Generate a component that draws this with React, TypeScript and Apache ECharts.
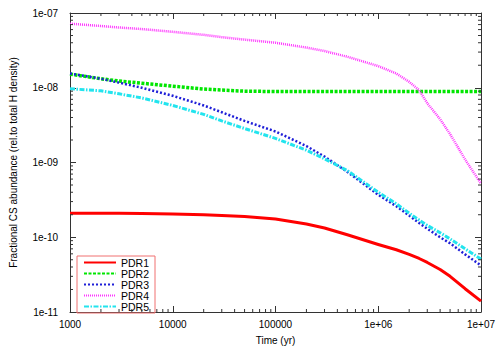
import React, { useEffect, useRef } from "react";
import * as echarts from "echarts";

const times = [1e3, 2e3, 3e3, 5e3, 1e4, 2e4, 3e4, 5e4, 1e5, 2e5, 3e5, 5e5, 1e6, 1.5e6, 2e6, 2.5e6, 3e6, 4e6, 5e6, 7e6, 1e7];
const pdr1 = [2.1e-10, 2.1e-10, 2.09e-10, 2.08e-10, 2.05e-10, 2.0e-10, 1.96e-10, 1.9e-10, 1.75e-10, 1.5e-10, 1.33e-10, 1.08e-10, 8.0e-11, 6.8e-11, 5.9e-11, 5.2e-11, 4.6e-11, 3.7e-11, 3.0e-11, 2.05e-11, 1.4e-11];
const pdr2 = [1.52e-8, 1.32e-8, 1.23e-8, 1.15e-8, 1.05e-8, 9.6e-9, 9.3e-9, 9.0e-9, 8.9e-9, 8.9e-9, 8.9e-9, 8.9e-9, 8.9e-9, 8.9e-9, 8.9e-9, 8.9e-9, 8.9e-9, 8.9e-9, 8.9e-9, 8.9e-9, 8.9e-9];
const pdr3 = [1.55e-8, 1.32e-8, 1.17e-8, 1.0e-8, 7.8e-9, 5.8e-9, 4.7e-9, 3.6e-9, 2.6e-9, 1.66e-9, 1.2e-9, 7.5e-10, 3.7e-10, 2.6e-10, 1.95e-10, 1.55e-10, 1.3e-10, 1.0e-10, 8.3e-11, 5.9e-11, 4.2e-11];
const pdr4 = [7.2e-8, 6.7e-8, 6.4e-8, 6.1e-8, 5.6e-8, 5.1e-8, 4.75e-8, 4.4e-8, 4.0e-8, 3.45e-8, 3.1e-8, 2.6e-8, 1.95e-8, 1.55e-8, 1.2e-8, 9.3e-9, 6.2e-9, 3.8e-9, 2.4e-9, 1.1e-9, 5.2e-10];
const pdr5 = [9.7e-9, 9.1e-9, 8.3e-9, 7.3e-9, 5.8e-9, 4.4e-9, 3.6e-9, 2.85e-9, 2.1e-9, 1.46e-9, 1.12e-9, 7.8e-10, 4.0e-10, 2.8e-10, 2.1e-10, 1.7e-10, 1.44e-10, 1.15e-10, 9.5e-11, 7.0e-11, 5.1e-11];

const seriesNames = ["PDR1", "PDR2", "PDR3", "PDR4", "PDR5"];
const seriesValues = [pdr1, pdr2, pdr3, pdr4, pdr5];
const xTickLabels: Record<string, string> = { "1000": "1000", "10000": "10000", "100000": "100000", "1000000": "1e+06", "10000000": "1e+07" };
const yTickLabels = ["1e-07", "1e-08", "1e-09", "1e-10", "1e-11"];
const xMinorTicks = [3, 4, 5, 6].flatMap((e) => [2, 3, 4, 5, 6, 7, 8, 9].map((m) => m * Math.pow(10, e)));
const yMinorTicks = [-11, -10, -9, -8].flatMap((e) => [2, 3, 4, 5, 6, 7, 8, 9].map((m) => m * Math.pow(10, e)));

const colors = ["#ff0000", "#00e600", "#1f1fd8", "#ff33ff", "#22e4ee"];
const widths = [3, 3.5, 2.5, 2.5, 3];
const dashes: any[] = ["solid", [3, 1.5], [2, 2], [1, 1], [5, 1.5, 1.5, 1.5]];

const FONT = "Liberation Sans, Arial, sans-serif";
const AXIS_COLOR = "#333";

function yLabel(v: number) {
  const e = Math.round(Math.log10(v));
  const s = "1e-" + String(-e).padStart(2, "0");
  return yTickLabels.includes(s) ? s : "";
}

export default function App() {
  const ref = useRef<HTMLDivElement>(null);
  useEffect(() => {
    if (!ref.current) return;
    const chart = echarts.init(ref.current, null, { renderer: "svg" });
    const axisLine = { show: true, onZero: false, lineStyle: { color: AXIS_COLOR, width: 1 } };
    const tick = { show: true, inside: true, length: 6, lineStyle: { color: AXIS_COLOR, width: 1 } };
    const tickLine = (x1: number, y1: number, x2: number, y2: number) => ({
      type: "line",
      shape: { x1, y1, x2, y2 },
      style: { stroke: AXIS_COLOR, lineWidth: 1 },
    });
    chart.setOption({
      animation: false,
      textStyle: { fontFamily: FONT },
      grid: { left: 70, right: 19, top: 13, bottom: 34 },
      legend: {
        orient: "vertical",
        left: 77,
        top: 256,
        data: seriesNames,
        itemWidth: 32,
        itemHeight: 11,
        itemGap: 0,
        padding: [1, 6, 1, 6],
        borderColor: "#f07070",
        borderWidth: 1,
        itemStyle: { opacity: 0 },
        textStyle: { fontSize: 10.5, lineHeight: 11, color: "#000", fontFamily: FONT },
      },
      xAxis: [
        {
          type: "log",
          min: 1e3,
          max: 1e7,
          logBase: 10,
          name: "Time (yr)",
          nameLocation: "middle",
          nameGap: 23,
          nameTextStyle: { fontSize: 10, color: "#000", fontFamily: FONT },
          axisLine,
          axisTick: tick,
          splitLine: { show: false },
          axisLabel: { fontSize: 10, color: "#000", margin: 7, fontFamily: FONT, formatter: (v: number) => xTickLabels[String(Math.round(v))] ?? "" },
        },
        {
          type: "log",
          min: 1e3,
          max: 1e7,
          position: "top",
          axisLine,
          axisTick: tick,
          splitLine: { show: false },
          axisLabel: { show: false },
        },
      ],
      yAxis: [
        {
          type: "log",
          min: 1e-11,
          max: 1e-7,
          logBase: 10,
          name: "Fractional CS abundance (rel.to total H density)",
          nameLocation: "middle",
          nameGap: 52,
          nameTextStyle: { fontSize: 10, color: "#000", fontFamily: FONT },
          axisLine,
          axisTick: tick,
          splitLine: { show: false },
          axisLabel: { fontSize: 10, color: "#000", margin: 12, fontFamily: FONT, formatter: (v: number) => yLabel(v) },
        },
        {
          type: "log",
          min: 1e-11,
          max: 1e-7,
          position: "right",
          axisLine,
          axisTick: tick,
          splitLine: { show: false },
          axisLabel: { show: false },
        },
      ],
      series: [
        ...seriesNames.map((name, i) => ({
          name,
          type: "line",
          xAxisIndex: 0,
          yAxisIndex: 0,
          showSymbol: false,
          symbol: "none",
          color: colors[i],
          lineStyle: { color: colors[i], width: widths[i], type: dashes[i], cap: "butt", join: "round" },
          data: times.map((t, j) => [t, seriesValues[i][j]]),
          z: 2 + i,
        })),
        {
          type: "custom",
          name: "xminor",
          silent: true,
          clip: false,
          xAxisIndex: 0,
          yAxisIndex: 0,
          data: xMinorTicks.map((t) => [t, 1e-11]),
          renderItem: (params: any, api: any) => {
            const t = api.value(0);
            const b = api.coord([t, 1e-11]);
            const tp = api.coord([t, 1e-7]);
            return {
              type: "group",
              children: [tickLine(b[0], b[1], b[0], b[1] - 3), tickLine(tp[0], tp[1], tp[0], tp[1] + 3)],
            };
          },
          z: 10,
        },
        {
          type: "custom",
          name: "yminor",
          silent: true,
          clip: false,
          xAxisIndex: 0,
          yAxisIndex: 0,
          data: yMinorTicks.map((v) => [1e3, v]),
          renderItem: (params: any, api: any) => {
            const v = api.value(1);
            const l = api.coord([1e3, v]);
            const r = api.coord([1e7, v]);
            return {
              type: "group",
              children: [tickLine(l[0], l[1], l[0] + 3, l[1]), tickLine(r[0], r[1], r[0] - 3, r[1])],
            };
          },
          z: 10,
        },
      ],
    });
    return () => chart.dispose();
  }, []);
  return <div ref={ref} style={{ width: 500, height: 350, position: "absolute", left: 0, top: 0 }} />;
}
